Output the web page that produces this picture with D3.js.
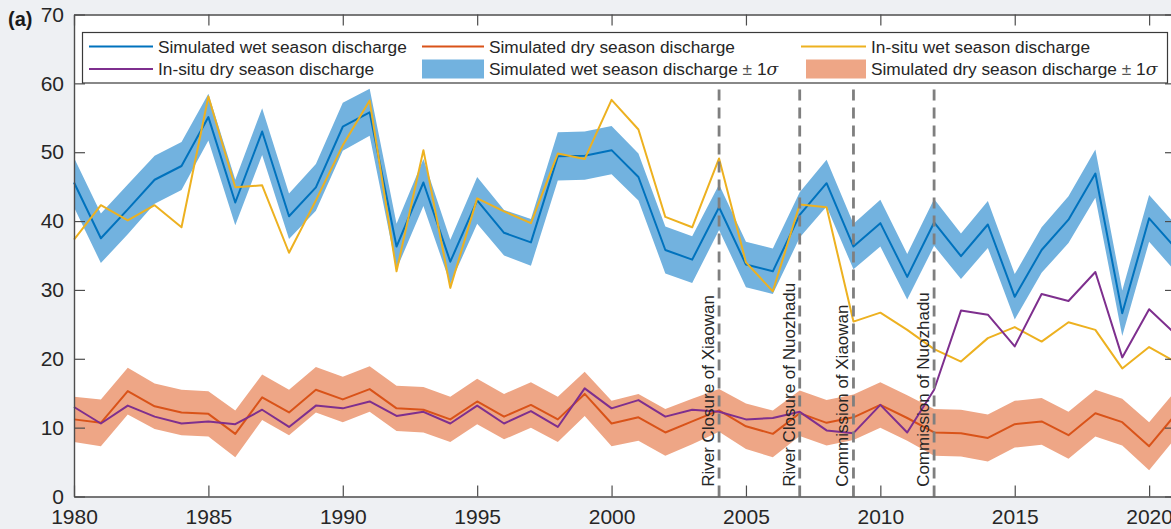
<!DOCTYPE html>
<html>
<head>
<meta charset="utf-8">
<script src="https://cdn.jsdelivr.net/npm/d3@7"></script>
<style>
  html, body { margin: 0; padding: 0; background: #eef0f3; }
  svg { display: block; font-family: "Liberation Sans", Arial, sans-serif; }
</style>
</head>
<body>
<svg id="chart" width="1171" height="529"></svg>
<script>
// Annual discharge, 1980–2021
const years = [1980, 1981, 1982, 1983, 1984, 1985, 1986, 1987, 1988, 1989,
               1990, 1991, 1992, 1993, 1994, 1995, 1996, 1997, 1998, 1999,
               2000, 2001, 2002, 2003, 2004, 2005, 2006, 2007, 2008, 2009,
               2010, 2011, 2012, 2013, 2014, 2015, 2016, 2017, 2018, 2019,
               2020, 2021];

const simWet = [45.6, 37.5, 41.7, 46.0, 48.0, 55.1, 42.7, 53.0, 40.7, 44.9,
                53.7, 55.8, 36.3, 45.6, 34.1, 43.0, 38.3, 36.9, 49.4, 49.5,
                50.3, 46.4, 35.8, 34.4, 42.0, 33.7, 32.7, 40.9, 45.5, 36.3,
                39.7, 31.9, 39.8, 34.9, 39.5, 29.0, 35.8, 40.2, 46.9, 26.6,
                40.4, 36.0];

const simWetSigma = [3.6, 3.6, 3.6, 3.5, 3.5, 3.4, 3.3, 3.4, 3.3, 3.4,
                     3.5, 3.4, 3.3, 3.4, 3.2, 3.4, 3.3, 3.4, 3.5, 3.5,
                     3.5, 3.4, 3.4, 3.4, 3.3, 3.3, 3.3, 3.3, 3.4, 3.3,
                     3.4, 3.3, 3.4, 3.3, 3.4, 3.3, 3.3, 3.4, 3.5, 3.3,
                     3.4, 3.4];

const simDry = [11.2, 10.7, 15.3, 13.1, 12.2, 12.0, 9.1, 14.4, 12.2, 15.5,
                14.1, 15.6, 12.8, 12.6, 11.2, 13.8, 11.6, 13.3, 11.2, 14.9,
                10.6, 11.5, 9.3, 10.9, 12.5, 10.2, 9.1, 12.1, 10.7, 11.5,
                13.3, 11.4, 9.3, 9.2, 8.5, 10.5, 10.9, 8.9, 12.1, 10.8,
                7.3, 12.0];

const simDrySigma = [3.3, 3.4, 3.4, 3.3, 3.3, 3.3, 3.4, 3.3, 3.3, 3.3,
                     3.3, 3.3, 3.3, 3.3, 3.3, 3.3, 3.3, 3.3, 3.3, 3.2,
                     3.3, 3.4, 3.4, 3.3, 3.1, 3.3, 3.4, 3.3, 3.3, 3.3,
                     3.3, 3.3, 3.4, 3.4, 3.4, 3.4, 3.4, 3.4, 3.4, 3.4,
                     3.5, 3.4];

const obsWet = [37.3, 42.3, 40.1, 42.3, 39.1, 58.1, 44.9, 45.2, 35.4, 43.0,
                51.0, 57.5, 32.7, 50.3, 30.3, 43.3, 41.4, 39.7, 49.8, 49.0,
                57.6, 53.3, 40.6, 39.1, 49.1, 34.0, 29.8, 42.4, 42.0, 25.4,
                26.7, 24.2, 21.4, 19.6, 23.0, 24.6, 22.5, 25.3, 24.2, 18.6,
                21.7, 19.5];

const obsDry = [13.0, 10.6, 13.2, 11.6, 10.6, 10.9, 10.5, 12.6, 10.1, 13.2,
                12.8, 13.8, 11.7, 12.3, 10.6, 13.2, 10.6, 12.4, 10.1, 15.7,
                12.8, 14.0, 11.6, 12.6, 12.3, 11.2, 11.4, 12.3, 9.6, 9.2,
                13.3, 9.3, 15.5, 27.0, 26.4, 21.8, 29.4, 28.4, 32.6, 20.2,
                27.2, 23.5];

// Dam milestones
const eventYears = [2004, 2007, 2009, 2012];
const eventLabels = ["River Closure of Xiaowan", "River Closure of Nuozhadu",
                     "Commission of Xiaowan", "Commission of Nuozhadu"];

// Axis ticks
const xTicks = [1980, 1985, 1990, 1995, 2000, 2005, 2010, 2015, 2020];
const yTicks = [0, 10, 20, 30, 40, 50, 60, 70];

const colors = {
  wet: "#0072bd", dry: "#d95319", obsWet: "#edb120", obsDry: "#7e2f8e",
  wetBand: "#72b2df", dryBand: "#eea686", axis: "#4d4d4d", text: "#262626"
};

const svg = d3.select("#chart");
const plotL = 74, plotR = 1176, plotT = 14.5, plotB = 496.5;

const x = d3.scaleLinear().domain([1980, 2021]).range([plotL, plotR]);
const y = d3.scaleLinear().domain([0, 70]).range([plotB, plotT]);

// plot background
svg.append("rect").attr("x", plotL).attr("y", plotT)
  .attr("width", plotR - plotL).attr("height", plotB - plotT).attr("fill", "#ffffff");

const rows = years.map((yr, i) => ({
  yr, simWet: simWet[i], simWetSigma: simWetSigma[i], simDry: simDry[i],
  simDrySigma: simDrySigma[i], obsWet: obsWet[i], obsDry: obsDry[i]
}));

const plot = svg.append("g");

// ±1σ bands
const bandWet = d3.area().x(d => x(d.yr))
  .y0(d => y(d.simWet - d.simWetSigma)).y1(d => y(d.simWet + d.simWetSigma));
const bandDry = d3.area().x(d => x(d.yr))
  .y0(d => y(d.simDry - d.simDrySigma)).y1(d => y(d.simDry + d.simDrySigma));

plot.append("path").datum(rows).attr("d", bandWet).attr("fill", colors.wetBand);
plot.append("path").datum(rows).attr("d", bandDry).attr("fill", colors.dryBand);

// series lines
const series = [
  ["simWet", colors.wet], ["simDry", colors.dry],
  ["obsWet", colors.obsWet], ["obsDry", colors.obsDry]
];
series.forEach(([key, col]) => {
  plot.append("path").datum(rows)
    .attr("d", d3.line().x(d => x(d.yr)).y(d => y(d[key])))
    .attr("fill", "none").attr("stroke", col).attr("stroke-width", 2)
    .attr("stroke-linejoin", "round");
});

// milestone markers
eventYears.forEach((yr, i) => {
  plot.append("line")
    .attr("x1", x(yr)).attr("x2", x(yr))
    .attr("y1", y(0)).attr("y2", y(60))
    .attr("stroke", "#7f7f7f").attr("stroke-width", 2.8)
    .attr("stroke-dasharray", "11,7");
  plot.append("text")
    .attr("transform", `translate(${x(yr) - 5},${y(1.4)}) rotate(-90)`)
    .attr("font-size", 17).attr("fill", colors.text)
    .text(eventLabels[i]);
});

// axes with inward ticks
const tickLen = 11;
const axB = svg.append("g").attr("transform", `translate(0,${plotB})`)
  .call(d3.axisBottom(x).tickValues(xTicks).tickFormat(d3.format("d"))
    .tickSizeInner(-tickLen).tickSizeOuter(0).tickPadding(12.5));
const axT = svg.append("g").attr("transform", `translate(0,${plotT})`)
  .call(d3.axisTop(x).tickValues(xTicks).tickFormat("")
    .tickSizeInner(-tickLen).tickSizeOuter(0));
const axL = svg.append("g").attr("transform", `translate(${plotL},0)`)
  .call(d3.axisLeft(y).tickValues(yTicks).tickFormat(d3.format("d"))
    .tickSizeInner(-tickLen).tickSizeOuter(0).tickPadding(10));
const axR = svg.append("g").attr("transform", `translate(${plotR},0)`)
  .call(d3.axisRight(y).tickValues(yTicks).tickFormat("")
    .tickSizeInner(-tickLen).tickSizeOuter(0));

[axB, axT, axL, axR].forEach(g => {
  g.select(".domain").attr("stroke", colors.axis).attr("stroke-width", 1.4);
  g.selectAll(".tick line").attr("stroke", colors.axis).attr("stroke-width", 1.2);
  g.selectAll("text").attr("font-size", 21).attr("fill", colors.text)
    .attr("font-family", "'Liberation Sans', Arial, sans-serif");
});

// panel tag
svg.append("text").attr("x", 8).attr("y", 26)
  .attr("font-size", 20).attr("font-weight", "bold").attr("fill", "#1a1a1a")
  .text("(a)");

// legend
const legend = svg.append("g");
legend.append("rect").attr("x", 82.5).attr("y", 32.5)
  .attr("width", 1085).attr("height", 50.5)
  .attr("fill", "#ffffff").attr("stroke", "#3a3a3a").attr("stroke-width", 1.2);

const legendItems = [
  { type: "line", color: colors.wet, x0: 89, x1: 153, row: 0, label: "Simulated wet season discharge" },
  { type: "line", color: colors.dry, x0: 422, x1: 484, row: 0, label: "Simulated dry season discharge" },
  { type: "line", color: colors.obsWet, x0: 801, x1: 866, row: 0, label: "In-situ wet season discharge" },
  { type: "line", color: colors.obsDry, x0: 89, x1: 153, row: 1, label: "In-situ dry season discharge" },
  { type: "patch", color: colors.wetBand, x0: 422, x1: 484, row: 1, label: "Simulated wet season discharge", sigma: true },
  { type: "patch", color: colors.dryBand, x0: 806, x1: 866, row: 1, label: "Simulated dry season discharge", sigma: true }
];
const rowY = [46.5, 69];
legendItems.forEach(it => {
  const cy = rowY[it.row];
  if (it.type === "line") {
    legend.append("line").attr("x1", it.x0).attr("x2", it.x1)
      .attr("y1", cy).attr("y2", cy)
      .attr("stroke", it.color).attr("stroke-width", 2.2);
  } else {
    legend.append("rect").attr("x", it.x0).attr("y", cy - 9.5)
      .attr("width", it.x1 - it.x0).attr("height", 19).attr("fill", it.color);
  }
  const t = legend.append("text").attr("x", it.x1 + 5).attr("y", cy + 6)
    .attr("font-size", 17.3).attr("fill", colors.text).text(it.label);
  if (it.sigma) {
    t.append("tspan").attr("fill", "#555").text(" \u00B1 ");
    t.append("tspan").text("1");
    t.append("tspan").attr("font-style", "italic")
      .attr("font-family", "'DejaVu Serif', serif").text("\u03C3");
  }
});
</script>
</body>
</html>
